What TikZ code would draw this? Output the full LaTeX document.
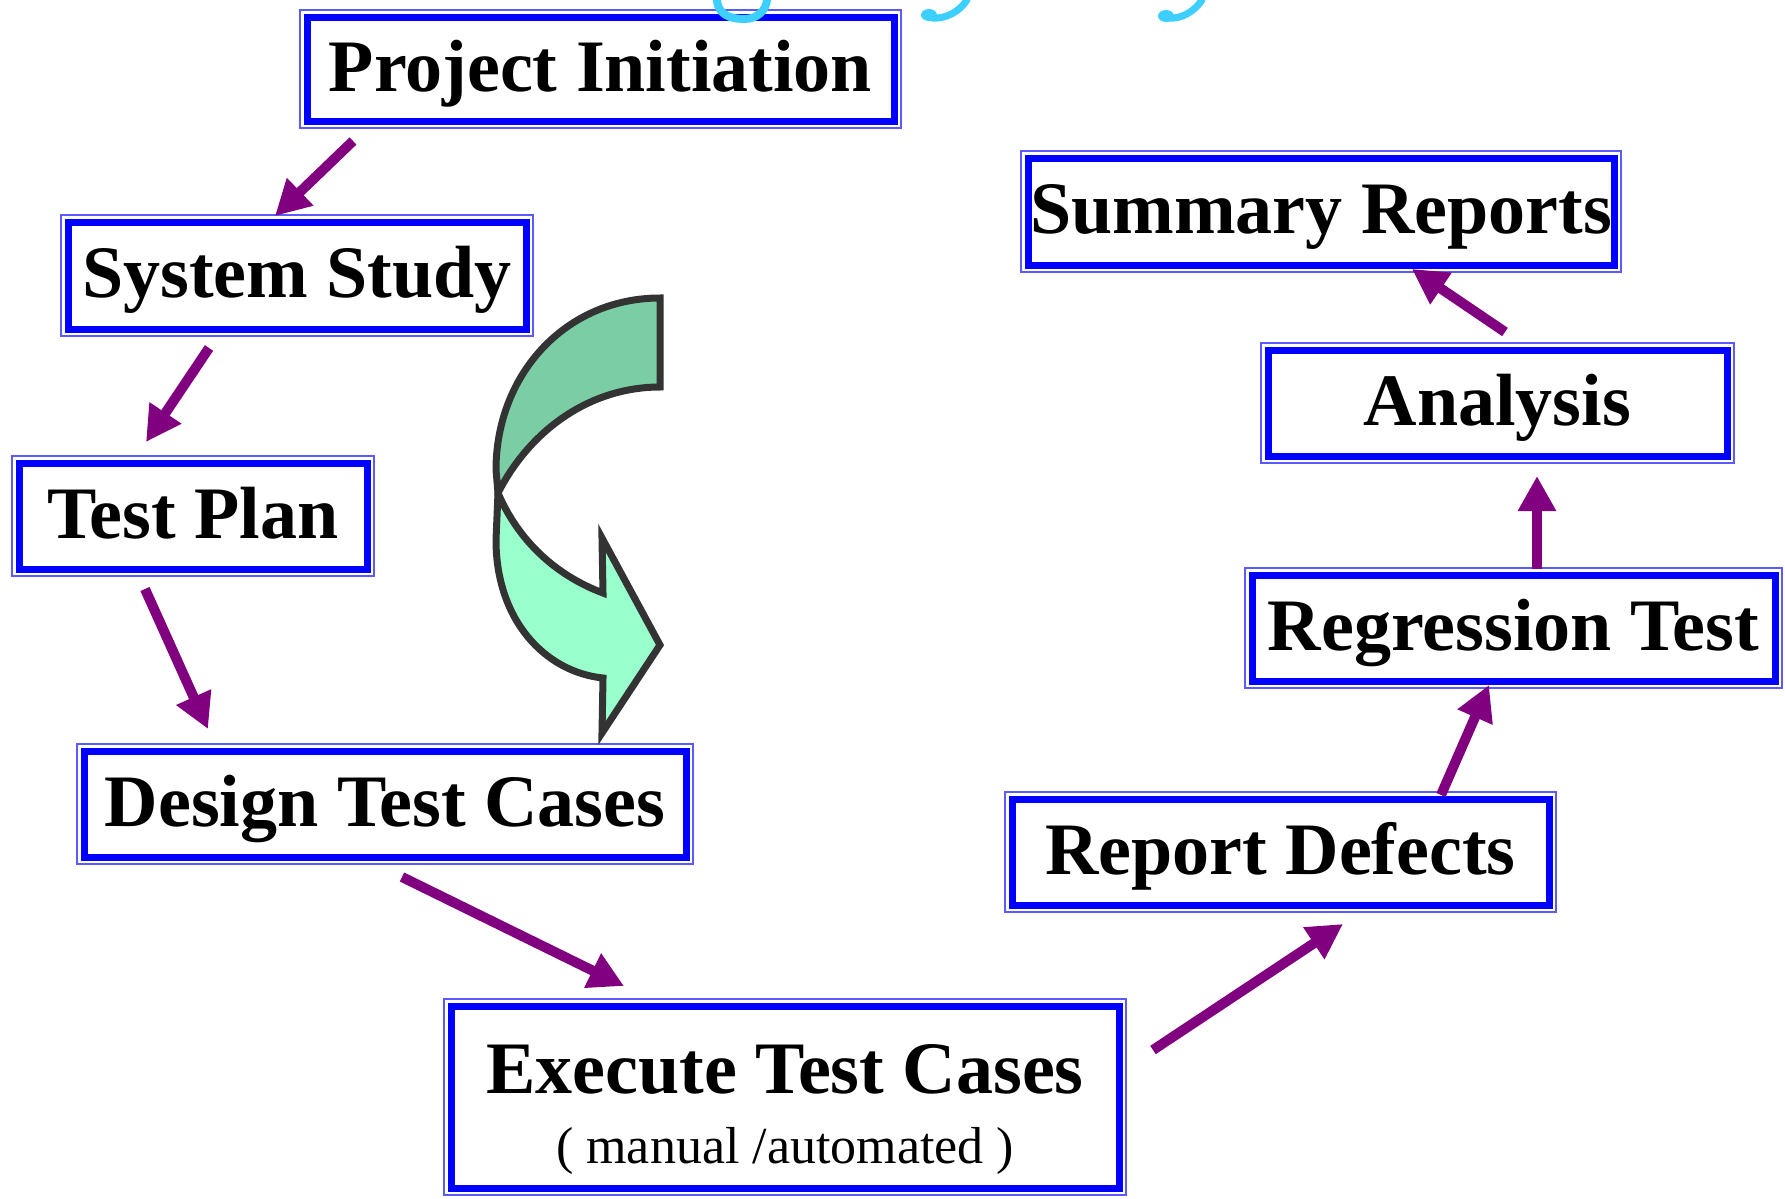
\documentclass[tikz,border=0pt]{standalone}
\usepackage{fontspec}
\setmainfont{Liberation Serif}
\usetikzlibrary{arrows.meta,calc}
\definecolor{bandblue}{HTML}{0000FF}
\definecolor{thinblue}{HTML}{5A5AFF}
\definecolor{arrowpurple}{HTML}{800080}
\definecolor{titlecyan}{HTML}{3CCFFF}
\definecolor{upgreen}{HTML}{7ACDA5}
\definecolor{lowmint}{HTML}{99FFCC}
\definecolor{outlinegray}{HTML}{333333}
\tikzset{
  stagebox/.style={draw=bandblue, line width=3.5pt, fill=white, inner sep=0pt,
    text height=27pt, text depth=5pt,
    font=\fontsize{37}{40}\selectfont\bfseries},
  subtext/.style={inner sep=0pt, font=\fontsize{26}{30}\selectfont},
  frameline/.style={draw=thinblue, line width=0.75pt},
  flowarrow/.style={draw=arrowpurple, line width=5pt,
    -{Triangle[length=17.5pt,width=18pt]}},
  uturn/.style={draw=outlinegray, line width=3.5pt, line join=miter},
  descender/.style={draw=titlecyan, line width=3pt, line cap=round},
}
\begin{document}
\begin{tikzpicture}[x=0.5pt,y=-0.5pt]
\useasboundingbox (0,0) rectangle (1785,1199);

% boxes
\node[stagebox, minimum width=293.5pt, minimum height=52pt] (pi) at (600.5,69) {Project Initiation};
\node[stagebox, minimum width=229pt, minimum height=53.5pt] (ss) at (297,275.5) {System Study};
\node[stagebox, minimum width=174pt, minimum height=53pt] (tp) at (193,516) {Test Plan};
\node[stagebox, minimum width=301pt, minimum height=53pt] (dtc) at (385,804) {Design Test Cases};
\node[stagebox, minimum width=334pt, minimum height=91pt, text height=27pt, text depth=31pt] (etc) at (785,1097) {Execute Test Cases};
\node[subtext, anchor=base] (etcsub) at (785,1163) {( manual /automated )};
\node[stagebox, minimum width=268.5pt, minimum height=53pt] (rd) at (1280.5,852) {Report Defects};
\node[stagebox, minimum width=261.5pt, minimum height=53pt] (rt) at (1513.5,628) {Regression Test};
\node[stagebox, minimum width=229.5pt, minimum height=53pt] (an) at (1497.5,403) {Analysis};
\node[stagebox, minimum width=293pt, minimum height=53.5pt] (sr) at (1321,211.5) {Summary Reports};

\foreach \n in {pi,ss,tp,dtc,etc,rd,rt,an,sr}
  \draw[frameline] ($(\n.north west)+(-1.75pt,1.75pt)$) rectangle ($(\n.south east)+(1.75pt,-1.75pt)$);

% cut-off title descenders (drawn over the top box)
\draw[descender, line width=4pt] (717,0) .. controls (718,15) and (731,19) .. (744,19) .. controls (758,19) and (766,10) .. (767,0);
\draw[descender, line width=3.5pt] (967,0) .. controls (959,12) and (946,19) .. (932,18);
\fill[titlecyan] (929,15) ellipse (8 and 6);
\draw[descender, line width=3.5pt] (1202,0) .. controls (1194,12) and (1181,19) .. (1169,18);
\fill[titlecyan] (1166,16) ellipse (8 and 6);

% u-turn arrow
\draw[uturn, fill=upgreen] (660,298) .. controls (565,298) and (496,375) .. (496,470)
  -- (498,493) .. controls (530,430) and (590,387) .. (660,387) -- cycle;
\draw[uturn, fill=lowmint] (498,493) -- (496,540) .. controls (496,620) and (545,672) .. (603,678)
  -- (602,733) -- (660,645) -- (602,538) -- (603,593)
  .. controls (555,575) and (518,540) .. (498,493) -- cycle;

% connectors
\coordinate (a1s) at (353,141);  \coordinate (a1e) at (275,216);
\coordinate (a2s) at (209,348);  \coordinate (a2e) at (146,442);
\coordinate (a3s) at (145,589);  \coordinate (a3e) at (208,729);
\coordinate (a4s) at (402,877);  \coordinate (a4e) at (624,986);
\coordinate (a5s) at (1153,1050); \coordinate (a5e) at (1343,924);
\coordinate (a6s) at (1441,795); \coordinate (a6e) at (1489,685);
\coordinate (a7s) at (1537,569); \coordinate (a7e) at (1537,476);
\coordinate (a8s) at (1505,332); \coordinate (a8e) at (1412,269);
\foreach \i in {1,...,8}
  \draw[flowarrow] (a\i s) -- (a\i e);
\end{tikzpicture}
\end{document}
